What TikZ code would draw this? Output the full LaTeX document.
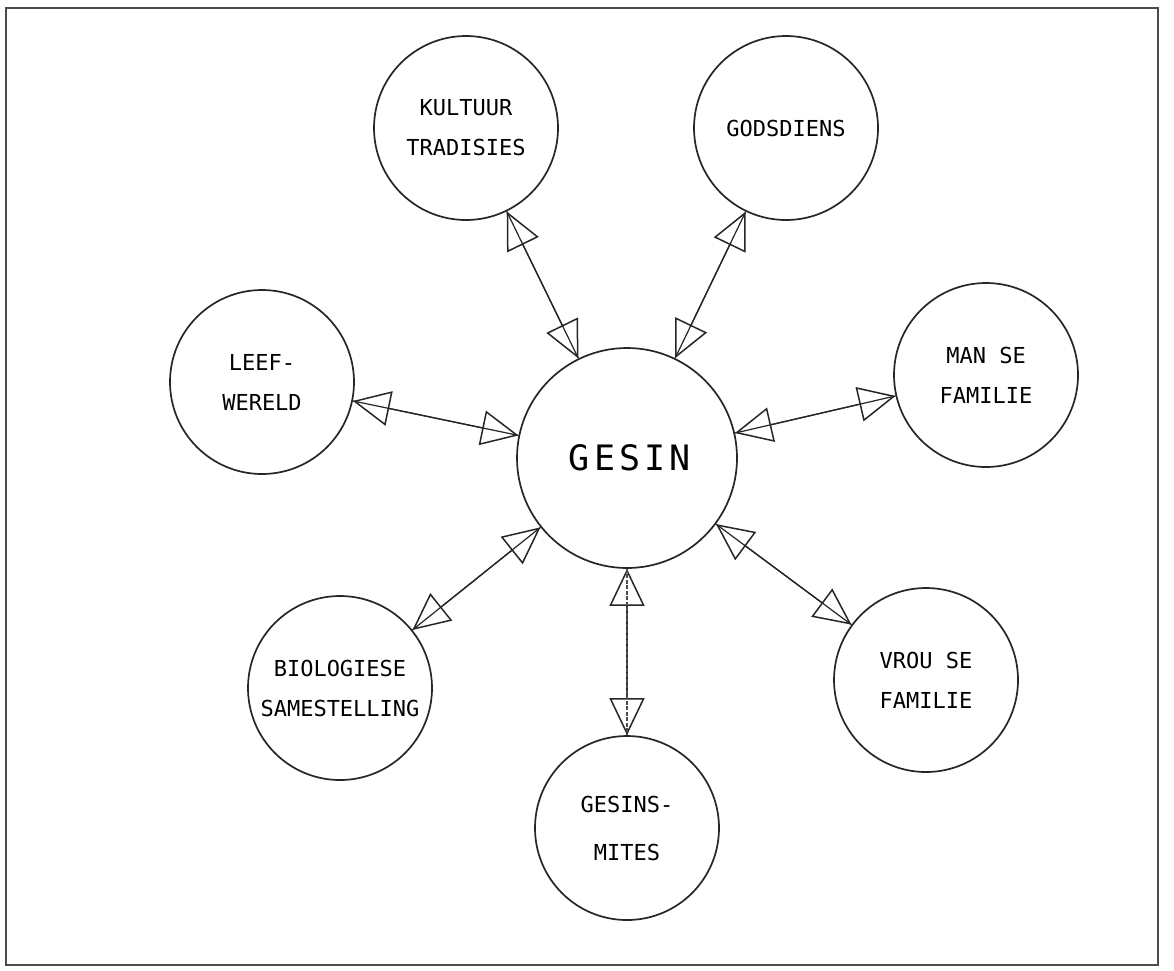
\documentclass[tikz,border=0pt]{standalone}
\usepackage{fontspec}
\newfontfamily\plotfont{DejaVu Sans Mono}
\newfontfamily\plotwide{DejaVu Sans Mono}[LetterSpace=12]
\usetikzlibrary{arrows.meta}

\tikzset{
  topic/.style={circle, draw=black!85, line width=1.7pt, fill=white,
    inner sep=0pt, minimum size=184pt, align=center,
    font=\plotfont\fontsize{22}{40}\selectfont},
  hub/.style={topic, minimum size=220pt, font=\plotwide\fontsize{35}{40}\selectfont},
  tipboth/.style={draw=black!85, line width=1.3pt,
    {Triangle[open, length=37pt, width=35pt, line width=1.5pt]}-{Triangle[open, length=37pt, width=35pt, line width=1.5pt]}},
  spoke/.style={draw=black!85, line width=1.2pt},
  dottedspoke/.style={draw=black!70, line width=1.1pt, dash pattern=on 4pt off 1.5pt},
  frame/.style={draw=black!70, line width=2.6pt}
}

\begin{document}
\begin{tikzpicture}[x=1pt, y=-1pt]
  \useasboundingbox (0,0) rectangle (1174,970);
  \fill[white] (0,0) rectangle (1174,970);

  % outer frame
  \draw[frame] (6,8) rectangle (1158,965);

  % central family circle and its surrounding influences
  \node[hub]   (ges) at (627,458) {\hspace*{6pt}GESIN};
  \node[topic] (kul) at (466,128) {KULTUUR\\TRADISIES};
  \node[topic] (god) at (786,128) {GODSDIENS};
  \node[topic] (lee) at (262,382) {LEEF-\\WERELD};
  \node[topic] (man) at (986,375) {MAN SE\\FAMILIE};
  \node[topic] (bio) at (340,688) {BIOLOGIESE\\SAMESTELLING};
  \node[topic] (vro) at (926,680) {VROU SE\\FAMILIE};
  \node[topic, font=\plotfont\fontsize{22}{48}\selectfont] (mit) at (627,828) {GESINS-\\MITES};

  % two-way links: open heads, with the line running through them
  \foreach \n in {kul,god,lee,man,bio,vro}{
    \draw[tipboth] (ges) -- (\n);
    \draw[spoke] (ges) -- (\n);
  }
  \draw[tipboth, dash pattern=on 4pt off 1.5pt] (ges) -- (mit);
  \draw[dottedspoke] (ges) -- (mit);
\end{tikzpicture}
\end{document}
